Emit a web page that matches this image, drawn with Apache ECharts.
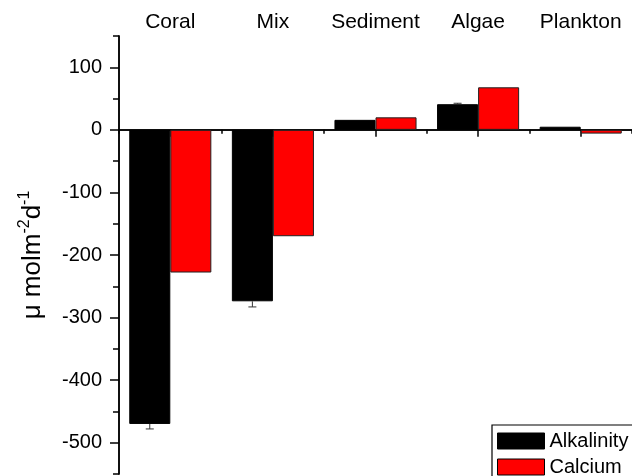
<!DOCTYPE html>
<html>
<head>
<meta charset="utf-8">
<script src="https://cdn.jsdelivr.net/npm/echarts@6/dist/echarts.min.js"></script>
<style>html,body{margin:0;padding:0;background:#fff}#c{width:632px;height:476px}</style>
</head>
<body>
<div id="c"></div>
<script>
const categories = ['Coral', 'Mix', 'Sediment', 'Algae', 'Plankton'];
const alkalinity = [-470, -274, 16, 41, 5];
const alkalinityErr = [8, 9, 0, 1.5, 0];
const calcium = [-228, -170, 20, 68, -6];
const majorTicks = [-500, -400, -300, -200, -100, 0, 100];
const minorTicks = [-550, -450, -350, -250, -150, -50, 50, 150];

const FONT = 'Liberation Sans, Arial, sans-serif';
const chart = echarts.init(document.getElementById('c'));
const axisLineStyle = { color: '#000', width: 1.5 };

chart.setOption({
  animation: false,
  backgroundColor: '#fff',
  textStyle: { fontFamily: FONT, color: '#000' },
  grid: { left: 119, top: 36, width: 522, height: 438, containLabel: false },
  legend: {
    data: ['Alkalinity', 'Calcium'],
    orient: 'vertical',
    left: 492, top: 425, width: 160, height: 90,
    borderColor: '#000', borderWidth: 1.2,
    padding: [6, 20, 10, 5],
    itemWidth: 47, itemHeight: 16, itemGap: 6,
    icon: 'rect',
    itemStyle: { borderColor: '#000', borderWidth: 1 },
    textStyle: { fontSize: 20, color: '#000', fontFamily: FONT }
  },
  xAxis: [
    {
      type: 'category', data: categories, position: 'top',
      axisLine: { show: false, onZero: false }, axisTick: { show: false },
      axisLabel: { fontSize: 21, margin: 3, color: '#000', fontFamily: FONT, interval: 0 },
      splitLine: { show: false }
    },
    {
      type: 'category', data: categories, position: 'bottom',
      axisLine: { show: true, onZero: true, lineStyle: axisLineStyle },
      axisTick: { show: true, alignWithLabel: true, length: 7, lineStyle: axisLineStyle },
      axisLabel: { show: false }, splitLine: { show: false }
    },
    {
      type: 'category', data: categories, position: 'bottom',
      axisLine: { show: true, onZero: true, lineStyle: axisLineStyle },
      axisTick: { show: true, length: 4, lineStyle: axisLineStyle },
      axisLabel: { show: false }, splitLine: { show: false }
    }
  ],
  yAxis: [
    {
      type: 'value', min: -550, max: 150, position: 'left',
      axisLine: { show: true, lineStyle: axisLineStyle },
      axisTick: { show: true, length: 9, customValues: majorTicks, lineStyle: axisLineStyle },
      axisLabel: { customValues: majorTicks, fontSize: 20, margin: 17, color: '#000', fontFamily: FONT },
      splitLine: { show: false },
      name: 'μ molm{sup|-2}d{sup|-1}',
      nameLocation: 'middle', nameRotate: 90, nameGap: 70,
      nameTextStyle: {
        fontSize: 26, color: '#000', fontFamily: FONT, lineHeight: 32,
        rich: { sup: { fontSize: 16, color: '#000', fontFamily: FONT, verticalAlign: 'top', lineHeight: 15 } }
      }
    },
    {
      type: 'value', min: -550, max: 150, position: 'left',
      axisLine: { show: true, lineStyle: axisLineStyle },
      axisTick: { show: true, length: 6, customValues: minorTicks, lineStyle: axisLineStyle },
      axisLabel: { show: false },
      splitLine: { show: false }
    }
  ],
  series: [
    {
      name: 'Alkalinity', type: 'bar', data: alkalinity,
      xAxisIndex: 0, yAxisIndex: 0,
      barGap: '0%', barCategoryGap: '20%',
      itemStyle: { color: '#000', borderColor: '#000', borderWidth: 1 }
    },
    {
      name: 'Calcium', type: 'bar', data: calcium,
      xAxisIndex: 0, yAxisIndex: 0,
      barGap: '0%', barCategoryGap: '20%',
      itemStyle: { color: '#ff0000', borderColor: '#222', borderWidth: 1 }
    },
    {
      name: 'err', type: 'custom', xAxisIndex: 0, yAxisIndex: 0, z: 5,
      data: alkalinity.map((v, i) => [i, v, alkalinityErr[i]]),
      encode: { x: 0, y: 1 },
      renderItem: function (params, api) {
        const i = api.value(0), v = api.value(1), e = api.value(2);
        if (!e) return null;
        const band = api.size([1, 0])[0];
        const s = api.coord([i, v]);
        const t = api.coord([i, v + Math.sign(v) * e]);
        const cx = s[0] - band * 0.2;
        const st = { stroke: '#333', lineWidth: 1 };
        return {
          type: 'group',
          children: [
            { type: 'line', shape: { x1: cx, y1: s[1], x2: cx, y2: t[1] }, style: st },
            { type: 'line', shape: { x1: cx - 4, y1: t[1], x2: cx + 4, y2: t[1] }, style: st }
          ]
        };
      }
    }
  ]
});
</script>
</body>
</html>
